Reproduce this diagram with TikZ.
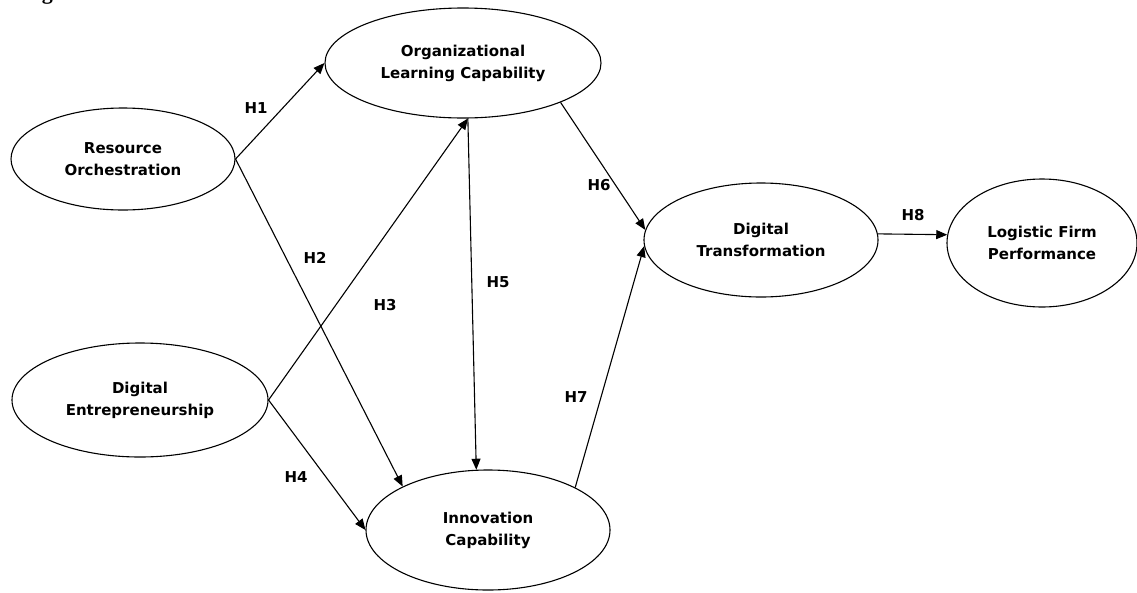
\documentclass[tikz,border=0pt]{standalone}
\usepackage{fontspec}
\setsansfont{DejaVu Sans}
\newfontfamily\figfont{Liberation Serif}
\usetikzlibrary{arrows.meta,shapes.geometric}
\begin{document}
\begin{tikzpicture}[x=1pt,y=-1pt,
  construct/.style={draw, ellipse, line width=1.1pt, inner sep=0pt, align=center,
    font=\sffamily\bfseries\fontsize{15}{22}\selectfont},
  hyp/.style={font=\sffamily\bfseries\fontsize{15}{18}\selectfont, inner sep=0pt},
  link/.style={line width=1.1pt, -{Triangle[length=11pt,width=9pt]}}]
\useasboundingbox (0,0) rectangle (1137,592);
\fill[white] (0,0) rectangle (1137,592);
\begin{scope}
\clip (0,0) rectangle (1137,592);
% cut-off caption fragment
\node[anchor=base west, inner sep=0pt, font=\figfont\bfseries\fontsize{22}{26}\selectfont] (cap) at (22,-1) {Figure 1.};
\end{scope}
% constructs
\node[construct, minimum width=224pt, minimum height=102pt] (ro) at (123,159) {Resource\\Orchestration};
\node[construct, minimum width=256pt, minimum height=114pt] (de) at (140,400) {Digital\\Entrepreneurship};
\node[construct, minimum width=276pt, minimum height=110pt] (olc) at (463,63) {Organizational\\Learning Capability};
\node[construct, minimum width=244pt, minimum height=120pt] (ic) at (488,530) {Innovation\\Capability};
\node[construct, minimum width=234pt, minimum height=114pt] (dt) at (761,240) {Digital\\Transformation};
\node[construct, minimum width=190pt, minimum height=128pt] (lfp) at (1042,243) {Logistic Firm\\Performance};
% paths
\draw[link] (ro.east) -- (olc.west);
\draw[link] (ro.east) -- (ic.153);
\draw[link] (de.east) -- (olc.-85);
\draw[link] (de.east) -- (ic.west);
\draw[link] (olc.-85) -- (ic.101);
\draw[link] (olc.-22) -- (dt.175);
\draw[link] (ic.26) -- (dt.183);
\draw[link] (dt.3) -- (lfp.175);
% labels
\node[hyp] (h1) at (256,108) {H1};
\node[hyp] (h2) at (315,258) {H2};
\node[hyp] (h3) at (385,305) {H3};
\node[hyp] (h4) at (296,477) {H4};
\node[hyp] (h5) at (498,282) {H5};
\node[hyp] (h6) at (599,185) {H6};
\node[hyp] (h7) at (576,397) {H7};
\node[hyp] (h8) at (913,215) {H8};
\end{tikzpicture}
\end{document}
